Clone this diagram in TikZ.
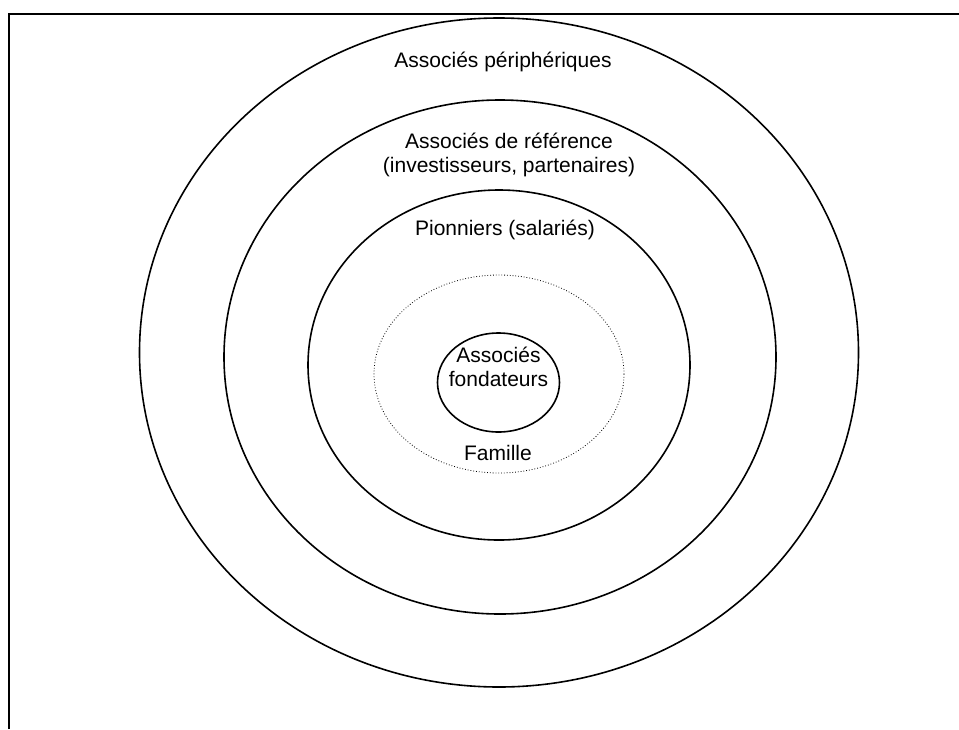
\documentclass[tikz,border=0pt]{standalone}
\usepackage{fontspec}
\setmainfont{Liberation Sans}
\begin{document}
\begin{tikzpicture}[x=1pt,y=-1pt,
  ring/.style={draw=black,line width=1.6pt},
  dotring/.style={draw=black,line width=0.8pt,dotted},
  lbl/.style={font=\fontsize{21}{24}\selectfont,align=center,inner sep=0pt}]
\useasboundingbox (0,0) rectangle (959,729);
% frame
\draw[line width=2.2pt] (9,729) -- (9,14) -- (959,14);
% rings
\draw[ring] (499,352.5) ellipse [x radius=359.5, y radius=334.5];
\draw[ring] (500,357) ellipse [x radius=276, y radius=257];
\draw[ring] (499,365) ellipse [x radius=191, y radius=175];
\draw[dotring] (499,374) ellipse [x radius=125, y radius=99];
\draw[ring] (498.5,382.5) ellipse [x radius=61, y radius=49.5];
% labels
\node[lbl] (peri) at (503,62) {Associés périphériques};
\node[lbl] (ref) at (509,155) {Associés de référence\\(investisseurs, partenaires)};
\node[lbl] (pion) at (505,230) {Pionniers (salariés)};
\node[lbl] (fond) at (498.5,367) {Associés\\fondateurs};
\node[lbl] (fam) at (498,453) {Famille};
\end{tikzpicture}
\end{document}
